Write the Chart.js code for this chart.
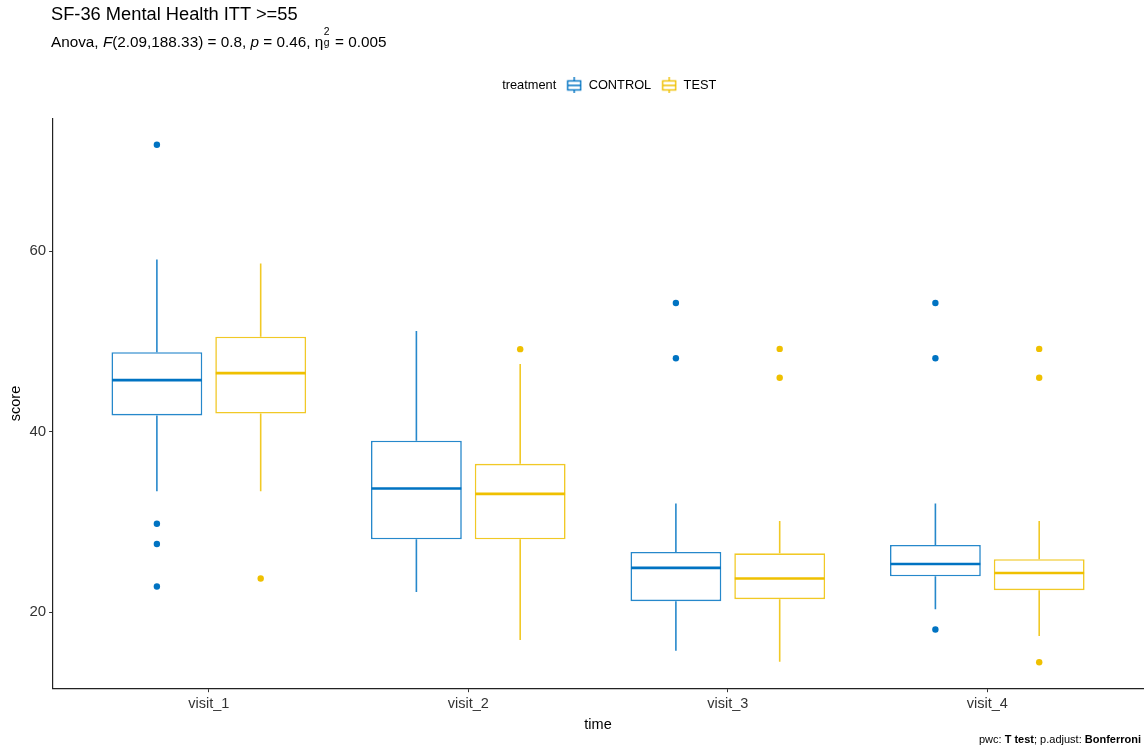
<!DOCTYPE html>
<html>
<head>
<meta charset="utf-8">
<script src="https://cdn.jsdelivr.net/npm/chart.js@4"></script>
<style>
  html, body { margin: 0; padding: 0; background: #fff; }
  body { width: 1147px; height: 750px; position: relative; overflow: hidden;
         font-family: "Liberation Sans", Arial, sans-serif; color: #000; }
  #chartBox { position: absolute; left: 0; top: 0; width: 1147px; height: 750px; }
  .title { position: absolute; left: 51px; top: 3px; font-size: 18.3px; white-space: nowrap; }
  .subtitle { position: absolute; left: 51px; top: 32px; font-size: 15.3px; white-space: nowrap; }
  .stack { display: inline-block; position: relative; width: 0.5em; height: 1em; vertical-align: baseline; }
  .stack span { position: absolute; left: 0.05em; font-size: 0.68em; line-height: 1; }
  .stack .sup { top: -0.45em; }
  .stack .sub { top: 0.62em; }
  .caption { position: absolute; right: 6px; top: 733px; font-size: 11px; white-space: nowrap; }
</style>
</head>
<body>
<div id="chartBox"><canvas id="chart" width="1147" height="750"></canvas></div>
<div class="title">SF-36 Mental Health ITT &gt;=55</div>
<div class="subtitle">Anova, <i>F</i>(2.09,188.33) = 0.8, <i>p</i> = 0.46, η<span class="stack"><span class="sup">2</span><span class="sub">g</span></span> = 0.005</div>
<div class="caption">pwc: <b>T test</b>; p.adjust: <b>Bonferroni</b></div>
<script>
// Visits on the x axis and score ticks on the y axis
const categories = ['visit_1', 'visit_2', 'visit_3', 'visit_4'];
const yTicks = [20, 40, 60];
const groups = ['CONTROL', 'TEST'];

// CONTROL box-plot statistics per visit
const controlLower  = [33.4, 22.24, 15.73, 20.33];
const controlQ1     = [41.8, 28.07, 21.22, 23.98];
const controlMedian = [45.71, 33.7, 24.9, 25.34];
const controlQ3     = [48.8, 39.0, 26.67, 27.44];
const controlUpper  = [59.08, 51.16, 32.04, 32.04];
const controlOutliers = [[71.8, 29.8, 27.55, 22.84], [], [54.25, 48.14], [54.25, 48.14, 18.08]];

// TEST box-plot statistics per visit
const testLower  = [33.4, 16.91, 14.51, 17.35];
const testQ1     = [42.0, 28.07, 21.44, 22.43];
const testMedian = [46.49, 33.11, 23.72, 24.34];
const testQ3     = [50.53, 36.43, 26.52, 25.86];
const testUpper  = [58.64, 47.51, 30.09, 30.09];
const testOutliers = [[23.72], [49.14], [49.17, 45.97], [49.17, 45.97, 14.44]];

const FONT = '"Liberation Sans", Arial, sans-serif';
const BLUE = '#0073C2';
const GOLD = '#EFC000';

function boxData(lower, q1, median, q3, upper, outliers) {
  return categories.map((c, i) => ({
    x: i + 1, y: [q1[i], q3[i]],
    lower: lower[i], median: median[i], upper: upper[i], outliers: outliers[i]
  }));
}

// y range: data extent plus 5% on both ends
const allValues = [].concat(controlLower, controlUpper, testLower, testUpper,
  ...controlOutliers, ...testOutliers);
const dMin = Math.min(...allValues), dMax = Math.max(...allValues);
const yPad = (dMax - dMin) * 0.05;

// small box glyph for the legend
function legendGlyph(color) {
  const c = document.createElement('canvas');
  c.width = 16; c.height = 16;
  const g = c.getContext('2d');
  g.strokeStyle = color; g.lineWidth = 1.4;
  g.beginPath();
  g.moveTo(8, 0); g.lineTo(8, 3.5);
  g.moveTo(8, 12.5); g.lineTo(8, 16);
  g.moveTo(1.5, 8); g.lineTo(14.5, 8);
  g.stroke();
  g.strokeRect(1.5, 3.5, 13, 9);
  return c;
}
function blankGlyph() {
  const c = document.createElement('canvas');
  c.width = 1; c.height = 1;
  return c;
}

// whiskers, medians and outlying points on top of the floating bars
const boxWhiskers = {
  id: 'boxWhiskers',
  afterDatasetsDraw(chart) {
    const ctx = chart.ctx;
    const ys = chart.scales.y;
    chart.data.datasets.forEach((ds, di) => {
      const meta = chart.getDatasetMeta(di);
      meta.data.forEach((bar, i) => {
        const d = ds.data[i];
        const x = bar.x;
        const hw = bar.width / 2;
        ctx.save();
        ctx.strokeStyle = ds.borderColor;
        ctx.lineWidth = ds.borderWidth;
        ctx.beginPath();
        ctx.moveTo(x, ys.getPixelForValue(d.y[1]));
        ctx.lineTo(x, ys.getPixelForValue(d.upper));
        ctx.moveTo(x, ys.getPixelForValue(d.y[0]));
        ctx.lineTo(x, ys.getPixelForValue(d.lower));
        ctx.stroke();
        ctx.strokeStyle = ds.medianColor;
        ctx.lineWidth = 2.6;
        const ym = ys.getPixelForValue(d.median);
        ctx.beginPath();
        ctx.moveTo(x - hw + 0.5, ym);
        ctx.lineTo(x + hw - 0.5, ym);
        ctx.stroke();
        ctx.fillStyle = ds.medianColor;
        d.outliers.forEach(v => {
          ctx.beginPath();
          ctx.arc(x, ys.getPixelForValue(v), 3.2, 0, Math.PI * 2);
          ctx.fill();
        });
        ctx.restore();
      });
    });
  }
};

// keep a gap between the legend row and the panel
const legendGap = {
  id: 'legendGap',
  beforeInit(chart) {
    const lg = chart.legend;
    if (!lg) return;
    const baseFit = lg.fit;
    lg.fit = function () { baseFit.call(this); this.height += 17; };
  }
};

const glyphs = [blankGlyph(), legendGlyph(BLUE), legendGlyph(GOLD)];

new Chart(document.getElementById('chart'), {
  type: 'bar',
  data: {
    datasets: [
      { label: groups[0], data: boxData(controlLower, controlQ1, controlMedian, controlQ3, controlUpper, controlOutliers),
        backgroundColor: '#ffffff', borderColor: 'rgba(0,115,194,0.85)', medianColor: BLUE,
        borderWidth: 1.6, borderSkipped: false },
      { label: groups[1], data: boxData(testLower, testQ1, testMedian, testQ3, testUpper, testOutliers),
        backgroundColor: '#ffffff', borderColor: 'rgba(239,192,0,0.85)', medianColor: GOLD,
        borderWidth: 1.6, borderSkipped: false }
    ]
  },
  options: {
    responsive: false,
    animation: false,
    events: [],
    categoryPercentage: 0.8,
    barPercentage: 0.875,
    layout: { padding: { left: 0, right: 4, top: 69, bottom: 16 } },
    scales: {
      x: {
        type: 'linear',
        offset: false,
        min: 0.4, max: 4.6,
        afterBuildTicks(scale) { scale.ticks = categories.map((c, i) => ({ value: i + 1 })); },
        ticks: {
          callback: v => categories[v - 1],
          color: '#333', font: { family: FONT, size: 14.5 }, padding: 3, maxRotation: 0
        },
        grid: { offset: false, drawOnChartArea: false, drawTicks: true, tickLength: 4, color: '#333', tickWidth: 1 },
        border: { display: true, color: '#222', width: 1.2 },
        title: { display: true, text: 'time', color: '#000', font: { family: FONT, size: 14.5 }, padding: { top: 1, bottom: 0 } }
      },
      y: {
        min: dMin - yPad, max: dMax + yPad,
        afterBuildTicks(scale) { scale.ticks = yTicks.map(v => ({ value: v })); },
        ticks: { color: '#333', font: { family: FONT, size: 15 }, padding: 3 },
        grid: { drawOnChartArea: false, drawTicks: true, tickLength: 4, color: '#333', tickWidth: 1 },
        border: { display: true, color: '#222', width: 1.2 },
        title: { display: true, text: 'score', color: '#000', font: { family: FONT, size: 14.5 }, padding: { top: 7, bottom: 2 } }
      }
    },
    plugins: {
      legend: {
        position: 'top',
        fullSize: false,
        labels: {
          usePointStyle: true, pointStyleWidth: 16, boxHeight: 14,
          padding: 10,
          color: '#222', font: { family: FONT, size: 12.8 },
          generateLabels() {
            return [
              { text: 'treatment', pointStyle: glyphs[0], fillStyle: 'transparent', strokeStyle: 'transparent', lineWidth: 0, hidden: false },
              { text: groups[0], pointStyle: glyphs[1], fillStyle: 'transparent', strokeStyle: 'transparent', lineWidth: 0, hidden: false, datasetIndex: 0 },
              { text: groups[1], pointStyle: glyphs[2], fillStyle: 'transparent', strokeStyle: 'transparent', lineWidth: 0, hidden: false, datasetIndex: 1 }
            ];
          }
        }
      },
      tooltip: { enabled: false }
    }
  },
  plugins: [boxWhiskers, legendGap]
});
</script>
</body>
</html>
